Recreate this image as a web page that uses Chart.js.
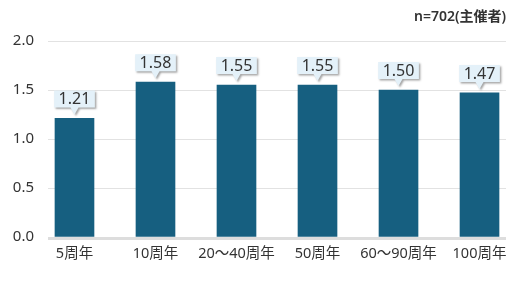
<!DOCTYPE html>
<html><head><meta charset="utf-8">
<script src="https://cdn.jsdelivr.net/npm/chart.js@4/dist/chart.umd.min.js"></script>
<style>html,body{margin:0;padding:0;background:#fff}#wrap{width:520px;height:282px}</style>
</head><body><div id="wrap"><canvas id="c" width="520" height="282"></canvas></div>
<script>
const categories = ["5周年","10周年","20～40周年","50周年","60～90周年","100周年"];
const values = [1.21, 1.58, 1.55, 1.55, 1.50, 1.47];
const yTicks = [0, 0.5, 1.0, 1.5, 2.0];
const note = "n=702(主催者)";
const FONT = "'Noto Sans','Noto Sans CJK JP',sans-serif";

const labelPlugin = {
  id: 'callouts',
  afterDatasetsDraw(chart) {
    const ctx = chart.ctx;
    const meta = chart.getDatasetMeta(0);
    ctx.save();
    ctx.font = "16px " + FONT;
    meta.data.forEach((el, i) => {
      const txt = values[i].toFixed(2);
      const w = ctx.measureText(txt).width + 9;
      const h = 17;
      const tipY = el.y - 4;
      const bx = el.x - w / 2, by = tipY - 7 - h;
      ctx.save();
      ctx.shadowColor = 'rgba(0,0,0,0.35)';
      ctx.shadowBlur = 2; ctx.shadowOffsetX = 1.5; ctx.shadowOffsetY = 1.5;
      ctx.fillStyle = '#e4f1f9';
      ctx.beginPath();
      ctx.moveTo(bx, by);
      ctx.lineTo(bx + w, by);
      ctx.lineTo(bx + w, by + h);
      ctx.lineTo(el.x + 4, by + h);
      ctx.lineTo(el.x, tipY);
      ctx.lineTo(el.x - 4, by + h);
      ctx.lineTo(bx, by + h);
      ctx.closePath();
      ctx.fill();
      ctx.restore();
      ctx.fillStyle = '#333';
      ctx.textAlign = 'center'; ctx.textBaseline = 'middle';
      ctx.fillText(txt, el.x, by + h / 2 + 0.5);
    });
    ctx.font = "600 14px " + FONT;
    ctx.fillStyle = '#333'; ctx.textAlign = 'right'; ctx.textBaseline = 'middle';
    ctx.fillText(note, 506, 17);
    const a = chart.chartArea;
    ctx.fillStyle = '#dddddd';
    ctx.fillRect(a.left, a.bottom, a.right - a.left, 3);
    ctx.restore();
  }
};

new Chart(document.getElementById('c'), {
  type: 'bar',
  data: {
    datasets: [{
      data: values.map((v, i) => ({x: i, y: v})),
      backgroundColor: '#165f80',
      barThickness: 39
    }]
  },
  plugins: [labelPlugin],
  options: {
    responsive: false,
    animation: false,
    layout: { padding: { top: 41, right: 14, left: 0, bottom: 0 } },
    plugins: { legend: { display: false }, tooltip: { enabled: false } },
    scales: {
      x: {
        type: 'linear',
        offset: false,
        min: -0.327, max: 5.327,
        afterBuildTicks: s => { s.ticks = categories.map((c, i) => ({value: i})); },
        afterFit: s => { s.height = 45; },
        grid: { display: false, drawTicks: false },
        border: { display: false },
        ticks: {
          autoSkip: false, maxRotation: 0, padding: 8,
          color: '#333', font: { family: FONT, size: 14.5 },
          callback: v => categories[v]
        }
      },
      y: {
        min: 0, max: 2,
        afterBuildTicks: s => { s.ticks = yTicks.map(v => ({value: v})); },
        afterFit: s => { s.width = 48; },
        grid: { color: '#e2e2e2', drawTicks: false, lineWidth: 1 },
        border: { display: false },
        ticks: {
          padding: 14, color: '#333', font: { family: FONT, size: 15 },
          callback: v => Number(v).toFixed(1)
        }
      }
    }
  }
});
</script></body></html>
